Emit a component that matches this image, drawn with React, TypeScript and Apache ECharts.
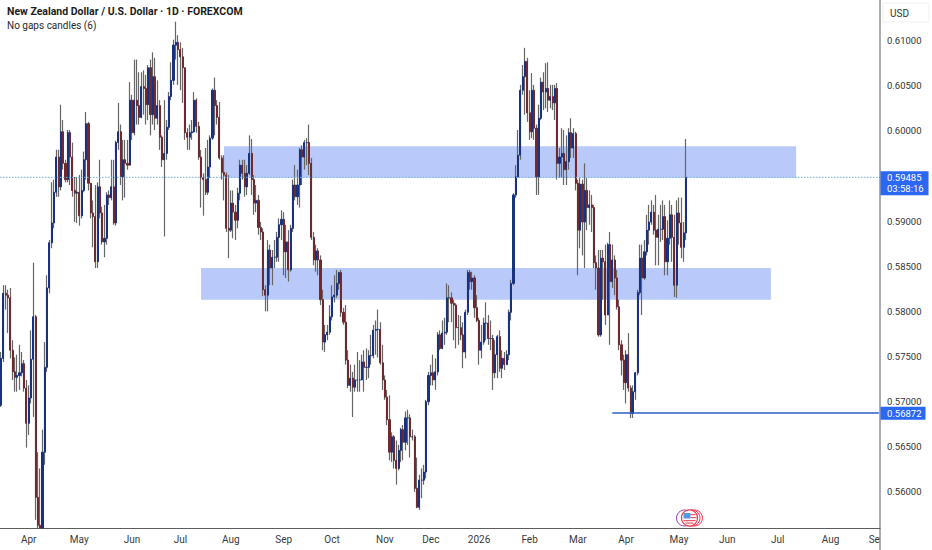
import React, { useEffect, useRef } from "react";
import * as echarts from "echarts";

// prices in units of 0.0001
const firstOpen = 5696;
const closes = [
5748,5820,5818,5815,5757,5733,5727,5729,5732,5742,5715,5676,5704,5747,5794,5594,5563,5560,5644,5738,
5826,5876,5898,5932,5971,5938,5999,5964,5946,5998,5971,5934,5931,5932,5906,5934,5968,6008,5942,5909,
5905,5855,5938,5909,5877,5881,5929,5926,5938,5898,5987,5999,5949,5968,5964,5962,6034,5998,6034,6028,
6015,6049,6047,6029,6070,6018,6060,6014,6028,5993,5968,5975,6004,6038,6056,6095,6098,6090,6082,6070,
5998,5993,5998,5999,6034,6005,5971,5948,5946,5932,5960,5992,6045,6028,6015,5970,5954,5951,5892,5890,
5920,5910,5901,5931,5962,5953,5938,5953,5975,5946,5920,5923,5893,5888,5824,5818,5868,5848,5860,5860,
5882,5896,5902,5866,5877,5846,5892,5940,5927,5940,5979,5971,5987,5987,5964,5882,5857,5867,5857,5813,
5766,5774,5777,5794,5816,5818,5831,5843,5799,5788,5746,5718,5726,5716,5724,5724,5724,5744,5738,5738,
5751,5751,5779,5780,5780,5743,5724,5705,5680,5644,5661,5635,5626,5646,5669,5655,5682,5682,5661,5661,
5604,5583,5613,5613,5622,5700,5729,5732,5724,5733,5774,5759,5776,5777,5815,5815,5809,5807,5782,5782,
5774,5755,5799,5843,5833,5837,5804,5790,5757,5766,5787,5787,5770,5770,5732,5752,5772,5737,5748,5741,
5752,5799,5831,5929,5949,5973,6045,6060,6077,6020,5999,6045,6003,5949,6014,6054,6043,6047,6034,6038,
6031,6047,5964,5971,5975,5957,5966,5998,5981,5997,5942,5890,5941,5899,5934,5915,5918,5915,5854,5848,
5774,5859,5855,5796,5874,5833,5857,5837,5805,5763,5746,5721,5752,5715,5687,5711,5732,5821,5859,5837,
5866,5890,5899,5910,5890,5882,5891,5891,5905,5855,5881,5907,5882,5829,5909,5898,5871,5887,5948.5,
];
const highs = [
5755,5829,5829,5824,5826,5768,5749,5752,5763,5755,5746,5724,5718,5779,5854,5796,5644,5626,5669,5766,
5840,5879,5943,5946,5979,5979,6029,6012,5968,6001,6001,5987,5949,5949,5951,5957,5977,6021,6010,5942,
5923,5940,5943,5968,5916,5918,5932,5934,5968,5968,5989,6031,6007,5990,5990,5990,6054,6040,6079,6079,
6065,6065,6067,6062,6073,6079,6087,6081,6056,6034,5995,6034,6012,6043,6076,6101,6121,6106,6098,6092,
6070,6003,6007,6012,6043,6036,6010,5979,5953,5981,5990,5995,6047,6059,6034,6032,5973,5973,5954,5951,
5934,5934,5918,5937,5968,5968,5968,5962,5995,5991,5951,5940,5929,5899,5892,5829,5879,5874,5868,5879,
5888,5903,5912,5910,5896,5890,5896,5946,5962,5957,5981,5984,5990,5992,6007,5970,5888,5874,5870,5862,
5824,5785,5785,5807,5829,5840,5846,5844,5846,5804,5807,5757,5741,5733,5741,5755,5746,5752,5757,5759,
5757,5774,5785,5790,5802,5788,5763,5729,5713,5707,5666,5663,5657,5652,5671,5674,5689,5691,5686,5669,
5663,5638,5619,5626,5630,5702,5733,5741,5752,5748,5777,5779,5790,5793,5831,5829,5821,5813,5809,5796,
5795,5788,5802,5846,5846,5844,5840,5818,5793,5785,5793,5810,5796,5790,5774,5768,5774,5779,5757,5755,
5757,5802,5835,5931,5962,6001,6051,6073,6092,6081,6045,6064,6051,6007,6029,6059,6065,6075,6076,6051,
6051,6051,6053,5981,6003,6001,5995,6003,6014,6003,5999,5946,5948,5946,5964,5948,5934,5929,5918,5862,
5868,5868,5868,5874,5876,5888,5874,5862,5846,5813,5768,5752,5757,5776,5718,5718,5733,5824,5874,5874,
5879,5907,5918,5923,5918,5929,5907,5918,5923,5918,5901,5923,5918,5907,5923,5926,5926,5899,5991,
];
const lows = [
5694,5744,5802,5776,5748,5724,5711,5711,5713,5728,5711,5649,5663,5698,5683,5569,5560,5560,5560,5630,
5733,5820,5870,5892,5927,5927,5934,5957,5943,5943,5940,5927,5899,5898,5895,5903,5932,5946,5934,5903,
5871,5848,5848,5903,5874,5860,5874,5918,5923,5896,5895,5979,5940,5923,5926,5957,5962,5990,5995,6007,
6007,6014,6018,6007,6012,5995,6007,6001,6007,5979,5960,5883,5968,6001,6034,6051,6079,6051,6045,6031,
5990,5979,5979,5990,5998,5998,5968,5915,5906,5929,5929,5948,5990,5995,6007,5968,5946,5923,5888,5859,
5888,5881,5879,5892,5923,5946,5927,5929,5951,5929,5907,5910,5885,5879,5817,5800,5800,5829,5829,5848,
5855,5855,5879,5840,5837,5833,5844,5888,5923,5918,5915,5940,5957,5962,5951,5879,5851,5844,5840,5807,
5757,5755,5768,5774,5790,5810,5815,5824,5794,5785,5741,5715,5711,5683,5711,5711,5711,5724,5711,5724,
5726,5741,5748,5752,5749,5741,5713,5702,5674,5635,5633,5626,5608,5624,5633,5635,5646,5652,5638,5657,
5600,5582,5580,5593,5608,5615,5696,5718,5718,5713,5729,5757,5758,5763,5774,5788,5788,5768,5759,5763,
5768,5737,5748,5796,5824,5824,5793,5788,5741,5748,5763,5768,5763,5757,5713,5726,5726,5733,5726,5735,
5741,5746,5790,5829,5926,5948,5968,6040,6018,6010,5990,5992,5990,5929,5929,6012,6023,6025,6021,6025,
6023,6012,5946,5948,5948,5940,5940,5957,5970,5970,5934,5840,5870,5862,5848,5890,5896,5888,5848,5824,
5772,5772,5813,5785,5818,5763,5826,5818,5802,5757,5729,5713,5698,5711,5682,5682,5702,5729,5818,5796,
5835,5862,5874,5896,5885,5851,5851,5877,5879,5840,5840,5874,5855,5816,5815,5874,5859,5855,5879,
];
const monthLabels = ["Apr","May","Jun","Jul","Aug","Sep","Oct","Nov","Dec","2026","Feb","Mar","Apr","May","Jun","Jul","Aug","Se"];
const monthSlots = [12,34,57,78,100,123,144,167,187,208,230,251,272,295,316,338,361,380];
const priceTicks = [0.56,0.565,0.57,0.575,0.58,0.585,0.59,0.595,0.6,0.605,0.61];
const axisTicksShown = priceTicks.filter((t) => t !== 0.595);
const SLOTS = 383;
const UNIT = 0.0001;
const lastPrice = 0.59485;
const countdown = "03:58:16";
const supportPrice = 0.56872;
const supportStart = 266;
const zones = [
  { from: 97, to: 346, top: 0.5983, bottom: 0.5948 },
  { from: 87, to: 335, top: 0.5848, bottom: 0.5813 },
];

const FONT = "Roboto, sans-serif";
const TAG = "#2a67f2";
const AXIS = "#5d5d5d";

export default function App() {
  const ref = useRef<HTMLDivElement>(null);
  useEffect(() => {
    document.body.style.margin = "0";
    const chart = echarts.init(ref.current!, undefined, { renderer: "svg" });
    const cats = Array.from({ length: SLOTS }, () => "");
    monthSlots.forEach((s, i) => (cats[s] = monthLabels[i]));
    const opens = closes.map((_, i) => (i === 0 ? firstOpen : closes[i - 1]));
    const full = closes.map((c, i) => [opens[i] * UNIT, c * UNIT, lows[i] * UNIT, highs[i] * UNIT]);
    const bodies = closes.map((c, i) => {
      const o = opens[i];
      return [o * UNIT, c * UNIT, Math.min(o, c) * UNIT, Math.max(o, c) * UNIT];
    });
    chart.setOption({
      animation: false,
      backgroundColor: "#ffffff",
      title: [
        { text: "New Zealand Dollar / U.S. Dollar · 1D · FOREXCOM", left: 7, top: 6, padding: 0,
          textStyle: { fontFamily: FONT, fontSize: 10.5, fontWeight: 700, color: "#1c1c1c" } },
        { text: "No gaps candles (6)", left: 7, top: 20, padding: 0,
          textStyle: { fontFamily: FONT, fontSize: 10, fontWeight: 400, color: "#2a2a2a" } },
      ],
      grid: { left: 0, right: 52, top: 0, bottom: 22, containLabel: false },
      xAxis: {
        type: "category", data: cats, boundaryGap: true,
        axisLine: { show: true, lineStyle: { color: AXIS, width: 1 } },
        axisTick: { show: false },
        splitLine: { show: false },
        axisLabel: { interval: (_: number, v: string) => v !== "", color: "#3a3a3a", fontFamily: FONT, fontSize: 10, margin: 6, hideOverlap: false },
      },
      yAxis: {
        type: "value", position: "right", min: 0.556, max: 0.6145, scale: true,
        axisLine: { show: false }, axisTick: { show: false }, splitLine: { show: false },
        axisLabel: { customValues: axisTicksShown, formatter: (v: number) => v.toFixed(5), color: "#333333", fontFamily: FONT, fontSize: 9.5, margin: 7 },
      },
      series: [
        {
          type: "line", data: [], z: 2, silent: true,
          markArea: {
            silent: true,
            itemStyle: { color: "#b9cafa", opacity: 1 },
            data: zones.map((z) => [{ coord: [z.from, z.top] }, { coord: [z.to, z.bottom] }]),
          },
        },
        {
          type: "candlestick", name: "wicks", data: full, z: 3, barWidth: 1,
          itemStyle: { color: "#666666", color0: "#666666", borderColor: "#666666", borderColor0: "#666666", borderWidth: 1.2 },
        },
        {
          type: "candlestick", name: "bodies", data: bodies, z: 4, barWidth: 1.6,
          itemStyle: { color: "#17337f", color0: "#702a2e", borderColor: "#17337f", borderColor0: "#702a2e", borderWidth: 1 },
          markLine: {
            silent: true, symbol: "none", animation: false, label: { show: false },
            lineStyle: { color: "#2a5fc4", type: "solid", width: 1.5, opacity: 1 },
            data: [[{ coord: [supportStart, supportPrice] }, { coord: [SLOTS - 1, supportPrice] }]],
          },
        },
      ],
    });
    const yLast = chart.convertToPixel({ yAxisIndex: 0 }, lastPrice) as number;
    const ySup = chart.convertToPixel({ yAxisIndex: 0 }, supportPrice) as number;
    const tagText = (x: number, y: number, text: string) => ({
      type: "text", x, y, z: 21,
      style: { text, fill: "#ffffff", fontFamily: FONT, fontSize: 9.5, verticalAlign: "middle", align: "left" },
    });
    chart.setOption({
      graphic: [
        { type: "line", z: 5, shape: { x1: 0, y1: yLast, x2: 880, y2: yLast }, style: { stroke: "#6fb0dd", lineWidth: 1, lineDash: [1.5, 1.5] } },
        { type: "line", z: 20, shape: { x1: 880, y1: 0, x2: 880, y2: 550 }, style: { stroke: AXIS, lineWidth: 1 } },
        { type: "rect", z: 20, shape: { x: 883, y: 3, width: 46, height: 19 }, style: { fill: "#ffffff", stroke: "#f1f1f1", lineWidth: 1 } },
        { type: "text", z: 21, x: 890, y: 13, style: { text: "USD", fill: "#333333", fontFamily: FONT, fontSize: 10, verticalAlign: "middle" } },
        { type: "rect", z: 20, shape: { x: 880.5, y: yLast - 6, width: 48, height: 24 }, style: { fill: TAG } },
        tagText(887, yLast, lastPrice.toFixed(5)),
        tagText(887, yLast + 11.5, countdown),
        { type: "rect", z: 20, shape: { x: 880.5, y: ySup - 6.5, width: 45, height: 13 }, style: { fill: TAG } },
        tagText(887, ySup, supportPrice.toFixed(5)),
        {
          type: "group", z: 22, x: 689.5, y: 518,
          children: [
            { type: "circle", shape: { cx: -5, cy: 0, r: 8 }, style: { fill: "#ffffff", stroke: "#8a3fb5", lineWidth: 1 } },
            { type: "circle", shape: { cx: 5, cy: 0, r: 8 }, style: { fill: "#ffffff", stroke: "#ee3b52", lineWidth: 1 } },
            { type: "circle", shape: { cx: 2.5, cy: 0, r: 8 }, style: { fill: "#ffffff", stroke: "#ee3b52", lineWidth: 1 } },
            { type: "circle", shape: { cx: 0, cy: 0, r: 8 }, style: { fill: "#ffffff", stroke: "#ee3b52", lineWidth: 1.2 } },
            { type: "rect", shape: { x: -6, y: -5, width: 7, height: 5.5 }, style: { fill: "#4f9be0" } },
            { type: "rect", shape: { x: 1, y: -4, width: 5, height: 1.2 }, style: { fill: "#ee5566" } },
            { type: "rect", shape: { x: 1, y: -1, width: 6, height: 1.2 }, style: { fill: "#ee5566" } },
            { type: "rect", shape: { x: -6, y: 2, width: 12, height: 1.2 }, style: { fill: "#ee5566" } },
            { type: "rect", shape: { x: -4, y: 4.5, width: 8, height: 1.2 }, style: { fill: "#ee5566" } },
          ],
        },
      ],
    });
    return () => chart.dispose();
  }, []);
  return <div ref={ref} style={{ width: 932, height: 550, position: "fixed", left: 0, top: 0 }} />;
}
